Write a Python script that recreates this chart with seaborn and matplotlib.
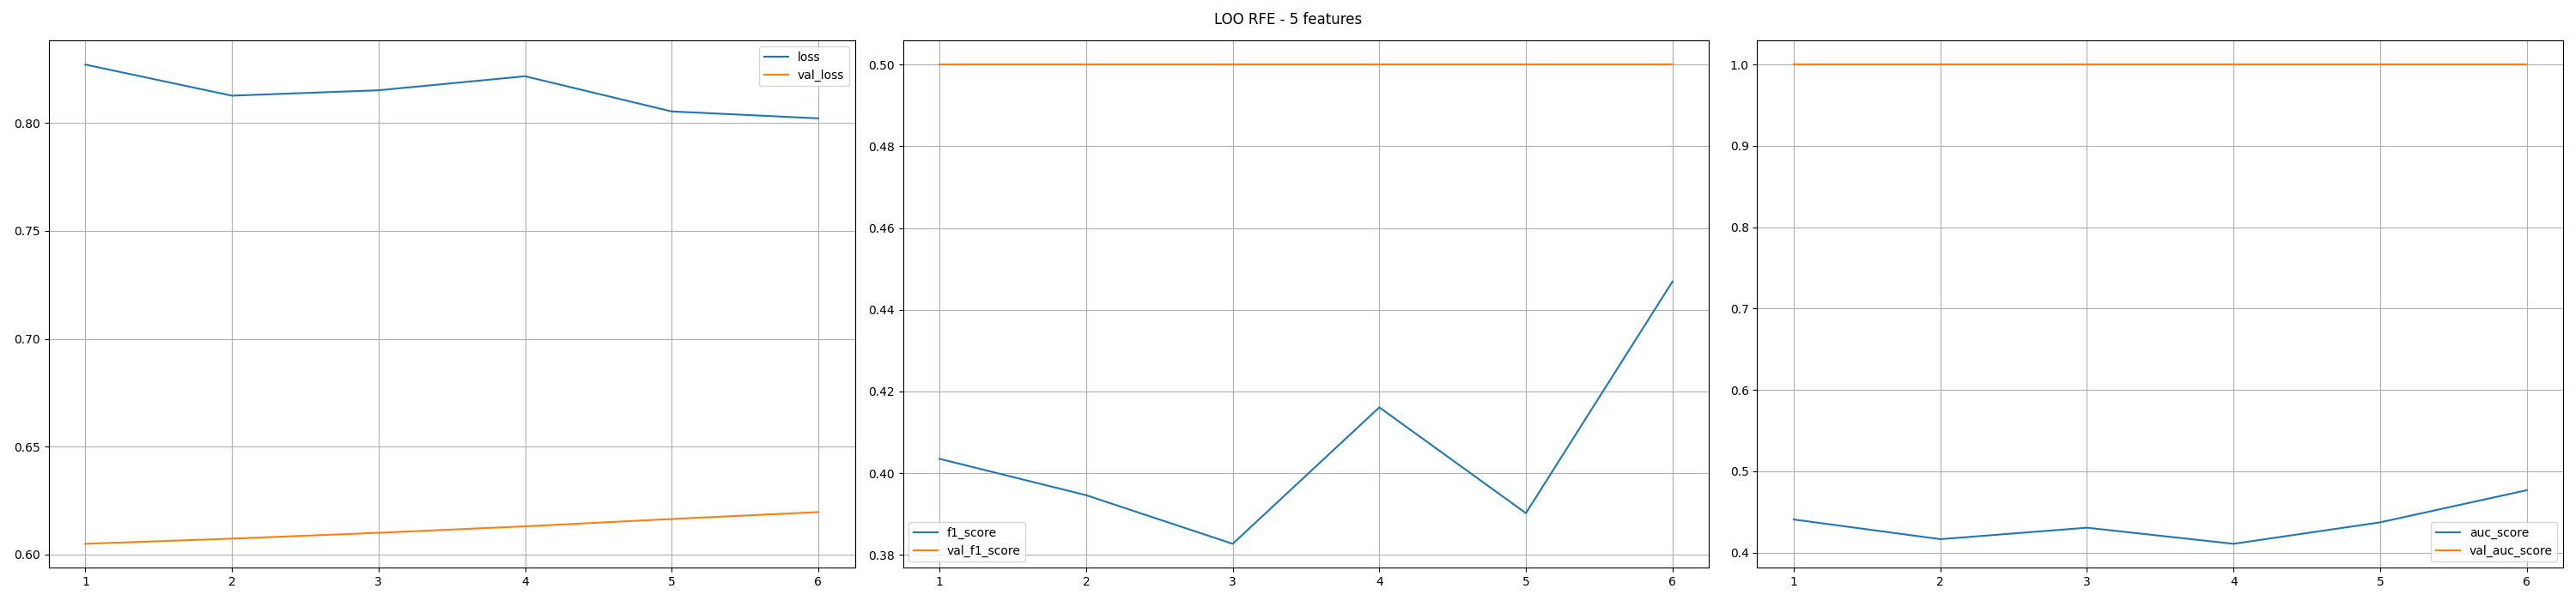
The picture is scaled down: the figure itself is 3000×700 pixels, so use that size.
import matplotlib
matplotlib.use("Agg")
import matplotlib.pyplot as plt
import seaborn as sns
import pandas as pd

# Epochs
epochs = [1, 2, 3, 4, 5, 6]

# Loss
loss = [0.8270, 0.8126, 0.8151, 0.8216, 0.8053, 0.8021]
val_loss = [0.6050, 0.6074, 0.6101, 0.6131, 0.6165, 0.6197]

# F1 score
f1_score = [0.4035, 0.3946, 0.3827, 0.4161, 0.3902, 0.4469]
val_f1_score = [0.5, 0.5, 0.5, 0.5, 0.5, 0.5]

# AUC score
auc_score = [0.4407, 0.4165, 0.4306, 0.4108, 0.4372, 0.4767]
val_auc_score = [1.0, 1.0, 1.0, 1.0, 1.0, 1.0]

panels = [
    ("loss", loss, val_loss, "upper right"),
    ("f1_score", f1_score, val_f1_score, "lower left"),
    ("auc_score", auc_score, val_auc_score, "lower right"),
]

fig, axes = plt.subplots(1, 3, figsize=(30, 7), dpi=100)

for ax, (name, train, val, loc) in zip(axes, panels):
    df = pd.DataFrame({"epoch": epochs, name: train, "val_" + name: val})
    sns.lineplot(data=df, x="epoch", y=name, ax=ax, color="tab:blue", label=name)
    sns.lineplot(data=df, x="epoch", y="val_" + name, ax=ax, color="tab:orange",
                 label="val_" + name)
    ax.set_xlabel("")
    ax.set_ylabel("")
    ax.grid(True)
    ax.legend(loc=loc)

fig.suptitle("LOO RFE - 5 features")
fig.subplots_adjust(left=0.0189, right=0.9951, top=0.9324, bottom=0.0553, wspace=0.0596)
fig.savefig("out.png", dpi=100)
